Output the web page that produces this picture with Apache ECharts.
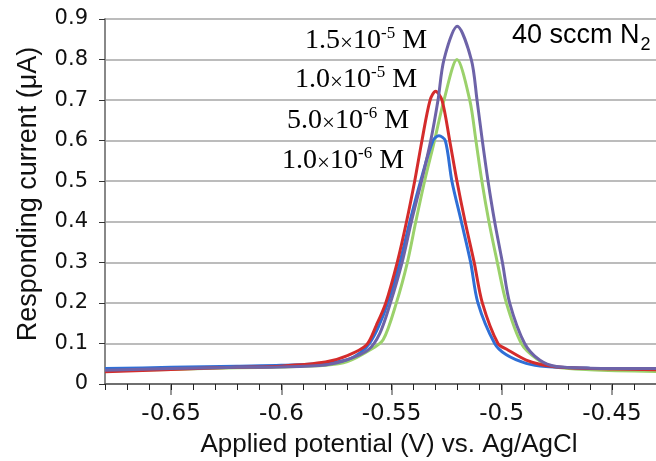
<!DOCTYPE html>
<html>
<head>
<meta charset="utf-8">
<script src="https://cdn.jsdelivr.net/npm/echarts@6/dist/echarts.min.js"></script>
<style>html,body{margin:0;padding:0;background:#fff}#c{width:656px;height:461px}</style>
</head>
<body>
<div id="c"></div>
<script>
// ---- data ----
const potBlue = [-0.68,-0.65,-0.62,-0.60,-0.58,-0.57,-0.564,-0.56,-0.556,-0.5517,-0.5462,-0.5417,-0.5368,-0.5312,-0.5285,-0.5256,-0.5226,-0.5183,-0.5141,-0.5108,-0.5032,-0.4979,-0.4889,-0.48,-0.46,-0.43];
const curBlue = [0.038,0.041,0.044,0.046,0.051,0.060,0.078,0.100,0.140,0.20,0.30,0.40,0.50,0.60,0.612,0.60,0.50,0.40,0.30,0.20,0.10,0.072,0.051,0.043,0.039,0.037];

const potRed = [-0.68,-0.65,-0.62,-0.60,-0.58,-0.57,-0.5614,-0.5568,-0.5526,-0.5474,-0.5432,-0.5395,-0.5362,-0.5325,-0.5300,-0.5271,-0.5236,-0.5203,-0.5166,-0.5125,-0.5088,-0.5017,-0.4972,-0.4889,-0.4813,-0.47,-0.45,-0.43];
const curRed = [0.030,0.036,0.041,0.044,0.054,0.070,0.096,0.146,0.20,0.30,0.40,0.50,0.60,0.70,0.722,0.70,0.60,0.50,0.40,0.30,0.20,0.10,0.084,0.059,0.047,0.040,0.037,0.035];

const potGreen = [-0.68,-0.65,-0.62,-0.60,-0.58,-0.57,-0.56,-0.5538,-0.5478,-0.5428,-0.539,-0.535,-0.5305,-0.5262,-0.5203,-0.5145,-0.5117,-0.5090,-0.5058,-0.5020,-0.4979,-0.4911,-0.4843,-0.4768,-0.46,-0.43];
const curGreen = [0.032,0.036,0.040,0.042,0.046,0.055,0.083,0.109,0.20,0.30,0.40,0.50,0.60,0.70,0.80,0.70,0.60,0.50,0.40,0.30,0.20,0.10,0.063,0.043,0.035,0.031];

const potPurple = [-0.68,-0.65,-0.62,-0.60,-0.58,-0.57,-0.5606,-0.5553,-0.5505,-0.5452,-0.541,-0.5364,-0.5322,-0.5289,-0.5262,-0.5202,-0.5138,-0.5112,-0.5088,-0.5062,-0.5032,-0.4997,-0.4964,-0.4896,-0.4828,-0.4752,-0.46,-0.43];
const curPurple = [0.034,0.038,0.041,0.042,0.047,0.060,0.084,0.125,0.20,0.30,0.40,0.50,0.60,0.70,0.80,0.882,0.80,0.70,0.60,0.50,0.40,0.30,0.20,0.10,0.059,0.043,0.039,0.038];

const xMajorTicks = [-0.65,-0.6,-0.55,-0.5,-0.45];
const xTickLabels = ['-0.65','-0.6','-0.55','-0.5','-0.45'];

const seriesNames = ['1.0×10-5 M','1.0×10-6 M','5.0×10-6 M','1.5×10-5 M'];

function zip(a,b){return a.map((v,i)=>[v,b[i]]);}

const chart = echarts.init(document.getElementById('c'));
const lineCommon = {type:'line', showSymbol:false, smooth:0.3, xAxisIndex:0, yAxisIndex:0};
const serif = 'Liberation Serif';
const richLbl = {
  n:{fontFamily:serif,fontSize:28,color:'#111',lineHeight:30,verticalAlign:'bottom'},
  s:{fontFamily:serif,fontSize:17,color:'#111',lineHeight:30,verticalAlign:'top'},
  x:{fontFamily:serif,fontSize:23,color:'#777',lineHeight:30,verticalAlign:'bottom'}
};
function concLabel(mant, exp, left, cy){
  return {type:'text', left:left, top:cy-15, style:{text:'{n|'+mant+'}{x|×}{n|10}{s|'+exp+'}{n| M}', rich:richLbl}};
}
const gridBox = {left:105,right:0,top:19,bottom:77,containLabel:false,outerBoundsMode:'none'};

chart.setOption({
  backgroundColor:'#fff',
  animation:false,
  grid:[Object.assign({},gridBox), Object.assign({},gridBox)],
  xAxis:[{
    gridIndex:0, type:'value', min:-0.68, max:-0.43,
    name:'Applied potential (V) vs. Ag/AgCl', nameLocation:'middle', nameGap:48,
    nameTextStyle:{fontFamily:'Liberation Sans',fontSize:26,color:'#111',padding:[0,0,0,17]},
    axisLine:{show:true,onZero:false,lineStyle:{color:'#555',width:1.5}},
    axisTick:{show:true,length:11,customValues:xMajorTicks,lineStyle:{color:'#777',width:1.5}},
    axisLabel:{show:true,customValues:xMajorTicks,margin:19,fontFamily:'DejaVu Sans',fontSize:23,color:'#111',
      formatter:function(v){const i=xMajorTicks.findIndex(t=>Math.abs(t-v)<1e-9);return i>=0?xTickLabels[i]:'';}},
    splitLine:{show:false}
  },{
    gridIndex:1, type:'value', min:-0.68, max:-0.43, interval:0.01, position:'bottom',
    axisLine:{show:false,onZero:false},
    axisTick:{show:true,length:6,lineStyle:{color:'#222',width:1}},
    axisLabel:{show:false}, splitLine:{show:false}
  }],
  yAxis:[{
    gridIndex:0, type:'value', min:0, max:0.9, interval:0.1,
    name:'Responding current (μA)', nameLocation:'middle', nameGap:63,
    nameTextStyle:{fontFamily:'Liberation Sans',fontSize:27,color:'#111',padding:[0,0,0,15]},
    axisLine:{show:true,onZero:false,lineStyle:{color:'#888',width:2}},
    axisTick:{show:true,length:6,lineStyle:{color:'#333',width:1}},
    axisLabel:{margin:17,fontFamily:'DejaVu Sans',fontSize:21,color:'#111',
      formatter:function(v){return v===0?'0':v.toFixed(1);}},
    splitLine:{show:true,lineStyle:{color:'#a6a6a6',width:1.5}}
  },{
    gridIndex:1, type:'value', min:0, max:0.9, show:false
  }],
  series:[
    Object.assign({},lineCommon,{name:seriesNames[0],data:zip(potGreen,curGreen),lineStyle:{color:'#9bd16b',width:3},itemStyle:{color:'#9bd16b'}}),
    Object.assign({},lineCommon,{name:seriesNames[1],data:zip(potBlue,curBlue),lineStyle:{color:'#2f6fd6',width:3},itemStyle:{color:'#2f6fd6'}}),
    Object.assign({},lineCommon,{name:seriesNames[2],data:zip(potRed,curRed),lineStyle:{color:'#d42c2c',width:3},itemStyle:{color:'#d42c2c'}}),
    Object.assign({},lineCommon,{name:seriesNames[3],data:zip(potPurple,curPurple),lineStyle:{color:'#6d63a8',width:3},itemStyle:{color:'#6d63a8'}})
  ],
  graphic:[
    concLabel('1.5','-5',305,40),
    concLabel('1.0','-5',295,79),
    concLabel('5.0','-6',287,120),
    concLabel('1.0','-6',282,160),
    {type:'text', left:512, top:22, style:{text:'{a|40 sccm N}{b|2}', rich:{
      a:{fontFamily:'Liberation Sans',fontSize:27,color:'#111',lineHeight:34,verticalAlign:'top'},
      b:{fontFamily:'Liberation Sans',fontSize:18,color:'#111',lineHeight:20,padding:[14,0,0,1],verticalAlign:'top'}
    }}}
  ]
});
</script>
</body>
</html>
